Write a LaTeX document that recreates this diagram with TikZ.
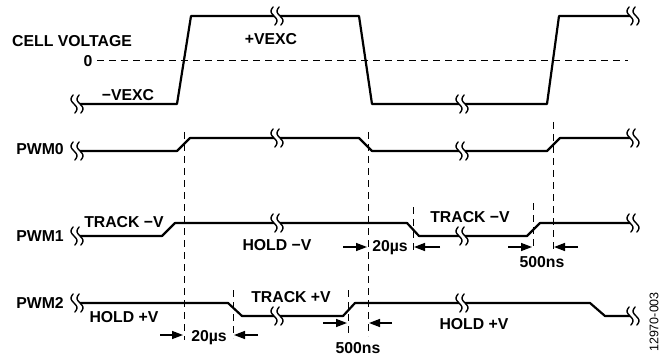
\documentclass[tikz,border=0pt]{standalone}
\usepackage{fontspec}
\setmainfont{Liberation Sans}
\usepackage{tikz}
\usetikzlibrary{arrows}
\usetikzlibrary{arrows.meta}

\begin{document}
\begin{tikzpicture}[line cap=round,line join=round,x=1pt,y=-1pt,
        sig/.style={line width=2.2pt},
        ref/.style={line width=1pt,line cap=butt,dash pattern=on 7pt off 5pt},
        dim/.style={line width=1.4pt,line cap=butt,-{Triangle[length=11pt,width=8pt]}},
        lbl/.style={font=\fontsize{15.8}{18}\selectfont\bfseries,inner sep=0pt,text depth=0pt},
        brk/.pic={\fill[white] (-3,-2.5) rectangle (3,2.5);
            \foreach \dx in {-3,3}
                \draw[line width=1.4pt,domain=-9:9,samples=19,smooth,variable=\t] plot ({\dx+0.1*\t+2.5*sin(20*\t)},\t);}]
                \useasboundingbox (0,0) rectangle (663,358);
                % cell voltage
                \draw [ref] (97,61)-- (628,61);
                \draw [sig] (80,104)-- (177,104)-- (191,16)-- (359,16)-- (372,104)-- (547,104)-- (559,16)-- (630,16);
                \pic at (77,104) {brk}; \pic at (277,16) {brk}; \pic at (462,104) {brk}; \pic at (633,16) {brk};
                % pwm0
                \draw [sig] (80,151)-- (177,151)-- (190,138)-- (359,138)-- (372,151)-- (547,151)-- (560,138)-- (630,138);
                \pic at (77,151) {brk}; \pic at (277,138) {brk}; \pic at (462,151) {brk}; \pic at (633,138) {brk};
                % pwm1
                \draw [sig] (80,236)-- (162,236)-- (175,223)-- (407,223)-- (419,236)-- (527,236)-- (540,223)-- (630,223);
                \pic at (77,236) {brk}; \pic at (277,223) {brk}; \pic at (462,236) {brk}; \pic at (633,223) {brk};
                % pwm2
                \draw [sig] (80,303)-- (228,303)-- (242,316)-- (343,316)-- (355,303)-- (590,303)-- (605,316)-- (630,316);
                \pic at (77,303) {brk}; \pic at (277,316) {brk}; \pic at (462,303) {brk}; \pic at (633,316) {brk};
                % timing marks
                \draw [ref] (184,132)-- (184,340);
                \draw [ref] (368,132)-- (368,336);
                \draw [ref] (553,122)-- (553,250);
                \draw [ref] (233,290)-- (233,338);
                \draw [ref] (348,290)-- (348,336);
                \draw [ref] (413,207)-- (413,250);
                \draw [ref] (533,203)-- (533,250);
                \draw [dim] (160,335)-- (183,335);
                \draw [dim] (258,335)-- (234,335);
                \draw [dim] (343,247)-- (367,247);
                \draw [dim] (440,247)-- (414,247);
                \draw [dim] (508,247)-- (532,247);
                \draw [dim] (578,247)-- (554,247);
                \draw [dim] (323,323)-- (347,323);
                \draw [dim] (392,323)-- (369,323);
                % labels
                \node[lbl,anchor=west] (cell) at (12,41) {CELL VOLTAGE};
                \node[lbl] (zero) at (88,61) {0};
                \node[lbl] (vpos) at (271,39) {+VEXC};
                \node[lbl] (vneg) at (128,95) {−VEXC};
                \node[lbl] (pwm0) at (40,149) {PWM0};
                \node[lbl] (pwm1) at (40,236) {PWM1};
                \node[lbl] (pwm2) at (40,303) {PWM2};
                \node[lbl] (trackna) at (124,222) {TRACK −V};
                \node[lbl] (holdn) at (277,245) {HOLD −V};
                \node[lbl] (tracknb) at (470,217) {TRACK −V};
                \node[lbl] (trackp) at (291,297) {TRACK +V};
                \node[lbl] (holdpa) at (124,317) {HOLD +V};
                \node[lbl] (holdpb) at (474,324) {HOLD +V};
                \node[lbl] (usa) at (390,246) {20µs};
                \node[lbl] (usb) at (209,336) {20µs};
                \node[lbl] (nsa) at (542,262) {500ns};
                \node[lbl] (nsb) at (358,348) {500ns};
                \node[font=\fontsize{12.5}{14}\selectfont,inner sep=0pt,rotate=90] (fig) at (654,322) {12970-003};
            \end{tikzpicture}
\end{document}
